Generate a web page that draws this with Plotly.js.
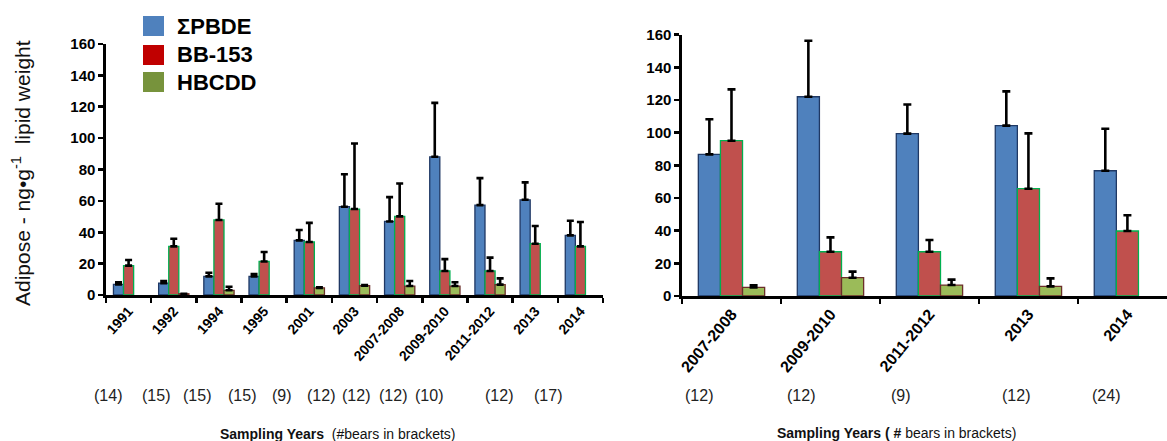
<!DOCTYPE html>
<html>
<head>
<meta charset="utf-8">
<script src="https://cdn.plot.ly/plotly-3.0.1.min.js"></script>
<style>html,body{margin:0;padding:0;background:#fff;}#chart{width:1167px;height:441px;}</style>
</head>
<body>
<div id="chart"></div>
<script>
// ---- Data (left panel) ----
const cats1 = ['1991','1992','1994','1995','2001','2003','2007-2008','2009-2010','2011-2012','2013','2014'];
const pbde1 = [6.8, 7.6, 11.9, 11.9, 34.8, 56.3, 46.9, 88.1, 57.3, 60.7, 38.0];
const pbde1Err = [1.3, 1.3, 2.3, 1.5, 6.6, 20.7, 15.5, 34.4, 17.2, 11.1, 9.3];
const bb1 = [18.7, 31.0, 47.8, 21.4, 33.8, 54.8, 50.1, 15.3, 15.3, 32.7, 31.0];
const bb1Err = [3.6, 4.9, 10.4, 6.0, 12.2, 41.8, 21.0, 7.6, 8.5, 11.3, 15.5];
const hb1 = [null, 0.8, 3.0, null, 4.5, 5.9, 5.7, 5.7, 6.6, null, null];
const hb1Err = [0, 0, 2.3, 0, 0.4, 0.4, 3.2, 2.4, 4.0, 0, 0];
const n1 = ['(14)','(15)','(15)','(15)','(9)','(12)','(12)','(12)','(10)','(12)','(17)'];

// ---- Data (right panel) ----
const cats2 = ['2007-2008','2009-2010','2011-2012','2013','2014'];
const pbde2 = [86.7, 122.0, 99.4, 104.3, 76.7];
const pbde2Err = [21.5, 34.3, 17.9, 21.0, 25.7];
const bb2 = [95.1, 27.1, 27.1, 65.7, 39.8];
const bb2Err = [31.4, 8.8, 7.2, 33.9, 9.6];
const hb2 = [5.3, 11.2, 6.7, 5.9, null];
const hb2Err = [1.2, 3.7, 3.3, 4.9, 0];
const n2 = ['(12)','(12)','(9)','(12)','(24)'];

const yTicks = [0, 20, 40, 60, 80, 100, 120, 140, 160];
const seriesNames = ['\u03A3PBDE', 'BB-153', 'HBCDD'];

const FONT = 'Liberation Sans, Arial, sans-serif';
const W = 1167, H = 441;

const fills = ['#4F81BD', '#C0504D', '#9BBB59'];
const borders = ['#1F3864', '#00B050', '#6B2E2A'];
const legendCols = ['#4F81BD', '#C00000', '#77933C'];

function errSpec(arr, w) {
  return {type: 'data', symmetric: false, array: arr, arrayminus: arr.map(() => 0),
          color: '#000', thickness: 2.6, width: w, visible: true};
}
function barTrace(x, y, err, i, xa, ya, w) {
  return {type: 'bar', x: x, y: y, name: seriesNames[i], xaxis: xa, yaxis: ya,
    marker: {color: fills[i], line: {color: borders[i], width: 1.3}},
    error_y: errSpec(err, w), showlegend: false, hoverinfo: 'x+y'};
}

const data = [
  barTrace(cats1, pbde1, pbde1Err, 0, 'x', 'y', 3.5),
  barTrace(cats1, bb1, bb1Err, 1, 'x', 'y', 3.5),
  barTrace(cats1, hb1, hb1Err, 2, 'x', 'y', 3.5),
  barTrace(cats2, pbde2, pbde2Err, 0, 'x2', 'y2', 4),
  barTrace(cats2, bb2, bb2Err, 1, 'x2', 'y2', 4),
  barTrace(cats2, hb2, hb2Err, 2, 'x2', 'y2', 4)
];

const axisCommon = {showgrid: false, zeroline: false, showline: true, linecolor: '#000',
  linewidth: 2.6, ticks: 'outside', tickcolor: '#000', tickwidth: 2.6, ticklen: 5};

const layout = {
  width: W, height: H,
  margin: {l: 0, r: 0, t: 0, b: 0},
  paper_bgcolor: '#fff', plot_bgcolor: '#fff',
  barmode: 'group', bargap: 0.33, bargroupgap: 0,
  showlegend: false,
  font: {family: FONT, color: '#000'},
  xaxis: Object.assign({}, axisCommon, {domain: [106 / W, 603 / W], type: 'category',
    tickson: 'boundaries', tickangle: -48, range: [-0.5, 10.5],
    tickfont: {family: FONT, size: 14, color: '#000', weight: 'bold'}, anchor: 'y'}),
  yaxis: Object.assign({}, axisCommon, {domain: [1 - 295 / H, 1 - 44 / H], range: [0, 160],
    tickvals: yTicks, ticktext: yTicks.map(String),
    tickfont: {family: FONT, size: 15, color: '#000', weight: 'bold'}, anchor: 'x'}),
  xaxis2: Object.assign({}, axisCommon, {domain: [682 / W, 1], type: 'category',
    tickson: 'boundaries', tickangle: -50, range: [-0.5, 4.4],
    tickfont: {family: FONT, size: 16, color: '#000', weight: 'bold'}, anchor: 'y2'}),
  yaxis2: Object.assign({}, axisCommon, {domain: [1 - 296 / H, 1 - 34.7 / H], range: [0, 160],
    tickvals: yTicks, ticktext: yTicks.map(String),
    tickfont: {family: FONT, size: 15, color: '#000', weight: 'bold'}, anchor: 'x2'}),
  shapes: [],
  annotations: []
};

// Legend (custom swatches + labels)
const legY = [26, 55, 82];
for (let i = 0; i < 3; i++) {
  layout.shapes.push({type: 'rect', xref: 'paper', yref: 'paper', line: {width: 0},
    fillcolor: legendCols[i],
    x0: 143 / W, x1: 164 / W, y0: 1 - (legY[i] + 10) / H, y1: 1 - (legY[i] - 10) / H});
  layout.annotations.push({xref: 'paper', yref: 'paper', x: 175 / W, y: 1 - legY[i] / H,
    xanchor: 'left', yanchor: 'middle', showarrow: false, text: '<b>' + seriesNames[i] + '</b>',
    font: {family: FONT, size: 22, color: '#000'}});
}

// Y axis title
layout.annotations.push({xref: 'paper', yref: 'paper', x: 21 / W, y: 1 - 173 / H,
  xanchor: 'center', yanchor: 'middle', textangle: -90, showarrow: false,
  text: 'Adipose - ng\u2022g<sup>-1</sup>  lipid weight',
  font: {family: FONT, size: 21, color: '#111'}});

// Bear counts
const n1Pos = [-0.455, 0.606, 1.51, 2.51, 3.39, 4.26, 5.03, 5.85, 6.65, 8.19, 9.28];
n1.forEach((t, i) => layout.annotations.push({xref: 'x', yref: 'paper', x: n1Pos[i],
  y: 1 - 395 / H, xanchor: 'center', yanchor: 'middle', showarrow: false, text: t,
  font: {family: FONT, size: 16, color: '#222'}}));
const n2Pos = [-0.33, 0.70, 1.71, 2.87, 3.78];
n2.forEach((t, i) => layout.annotations.push({xref: 'x2', yref: 'paper', x: n2Pos[i],
  y: 1 - 395 / H, xanchor: 'center', yanchor: 'middle', showarrow: false, text: t,
  font: {family: FONT, size: 16, color: '#222'}}));

// X axis titles
layout.annotations.push({xref: 'paper', yref: 'paper', x: 338 / W, y: 1 - 434 / H,
  xanchor: 'center', yanchor: 'middle', showarrow: false,
  text: '<b>Sampling Years</b>  (#bears in brackets)',
  font: {family: FONT, size: 14, color: '#111'}});
layout.annotations.push({xref: 'paper', yref: 'paper', x: 896 / W, y: 1 - 433 / H,
  xanchor: 'center', yanchor: 'middle', showarrow: false,
  text: '<b>Sampling Years ( #</b> bears in brackets)',
  font: {family: FONT, size: 14, color: '#111'}});

Plotly.newPlot('chart', data, layout, {staticPlot: true, displayModeBar: false});
</script>
</body>
</html>
